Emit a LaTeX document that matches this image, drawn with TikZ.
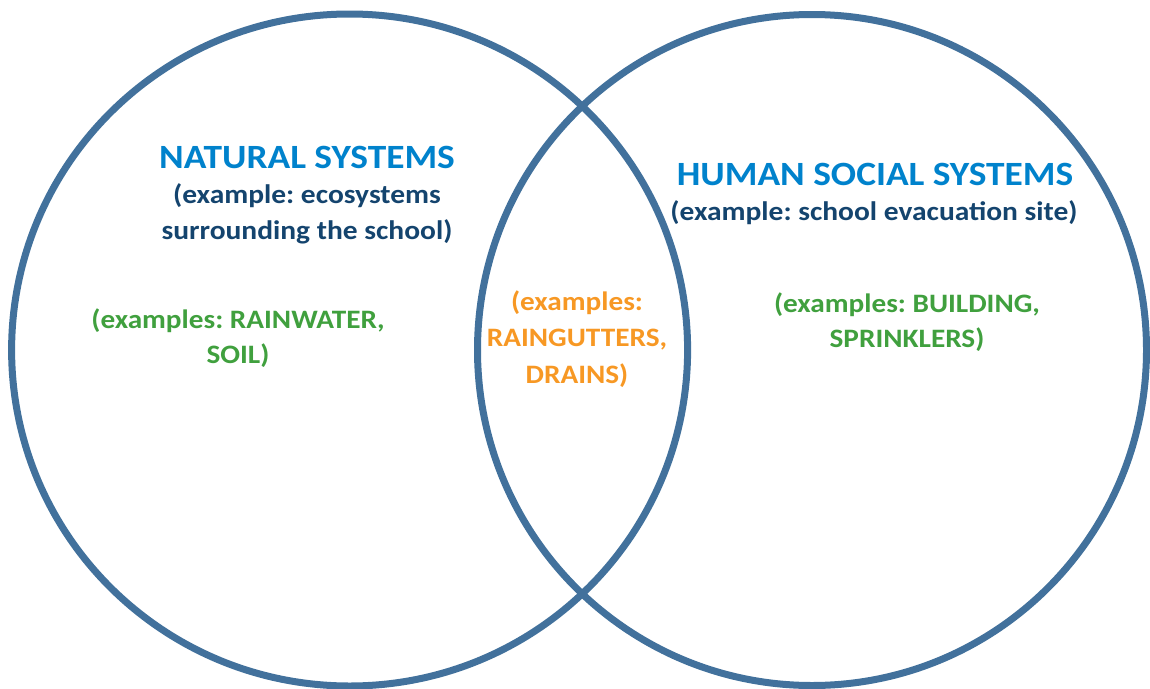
\documentclass[tikz,border=0pt]{standalone}
\usepackage{fontspec}
\setmainfont{Carlito}[FakeStretch=1.1]
\frenchspacing
\definecolor{ring}{RGB}{66,113,156}
\definecolor{titleblue}{RGB}{0,130,204}
\definecolor{navy}{RGB}{20,68,110}
\definecolor{leafgreen}{RGB}{64,160,62}
\definecolor{amber}{RGB}{247,152,36}
\tikzset{
  ring/.style={draw=ring, line width=7pt},
  title/.style={text=titleblue, font=\bfseries\fontsize{34}{40}\selectfont, inner sep=0pt},
  sub/.style={text=navy, font=\bfseries\fontsize{26.8}{36}\selectfont, align=center, inner sep=0pt},
  green/.style={text=leafgreen, font=\bfseries\fontsize{26.6}{35}\selectfont, align=center, inner sep=0pt},
  orange/.style={text=amber, font=\bfseries\fontsize{26.6}{36.5}\selectfont, align=center, inner sep=0pt}
}
\begin{document}
\begin{tikzpicture}[x=1pt,y=-1pt]
\useasboundingbox (0,0) rectangle (1150,688);
\draw[ring] (349.6,350) ellipse [x radius=338, y radius=336];
\draw[ring] (812,350) ellipse [x radius=334.5, y radius=335.5];
\node[title] (nat) at (307,157) {NATURAL SYSTEMS};
\node[sub] (natsub) at (307,214) {(example: ecosystems\\surrounding the school)};
\node[title] (hum) at (875,174) {HUMAN SOCIAL SYSTEMS};
\node[sub] (humsub) at (874,213) {(example: school evacuation site)};
\node[green] (natex) at (238,338) {(examples: RAINWATER,\\SOIL)};
\node[orange] (mid) at (577,339) {(examples:\\RAINGUTTERS,\\DRAINS)};
\node[green] (humex) at (907,322) {(examples: BUILDING,\\SPRINKLERS)};
\end{tikzpicture}
\end{document}
